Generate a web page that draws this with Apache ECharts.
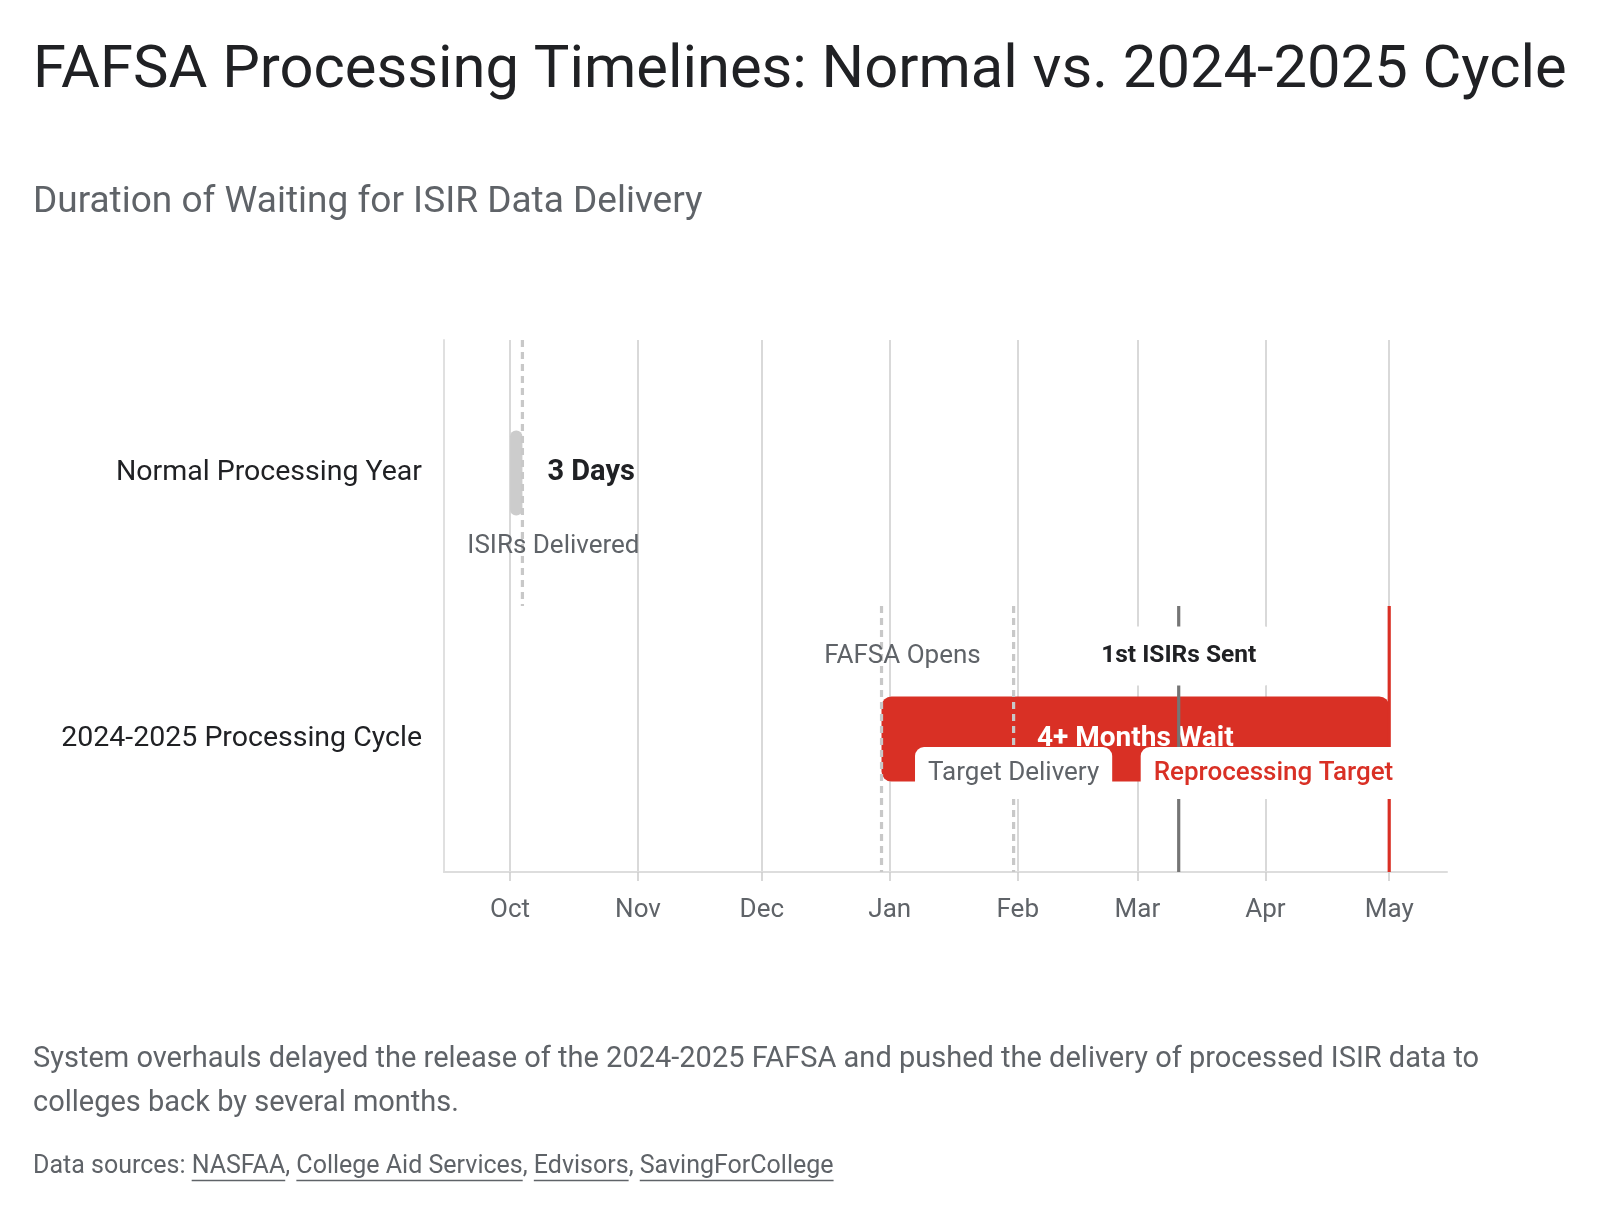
<!DOCTYPE html>
<html>
<head>
<meta charset="utf-8">
<title>FAFSA Processing Timelines</title>
<script src="https://cdn.jsdelivr.net/npm/echarts@6.0.0/dist/echarts.min.js"></script>
<style>
html, body { margin: 0; padding: 0; background: #fff; }
#main { width: 1600px; height: 1214px; }
</style>
</head>
<body>
<div id="main"></div>
<script>
// rows of the chart (top to bottom)
var categories = ['Normal Processing Year', '2024-2025 Processing Cycle'];

// waiting periods per row
var rangeStarts = ['2023-10-01', '2023-12-30'];
var rangeEnds = ['2023-10-04', '2024-05-01'];
var rangeLabels = ['3 Days', '4+ Months Wait'];

// milestones
var eventNames = ['ISIRs Delivered', 'FAFSA Opens', 'Target Delivery', '1st ISIRs Sent', 'Reprocessing Target'];
var eventDates = ['2023-10-04', '2023-12-30', '2024-01-31', '2024-03-11', '2024-05-01'];
var eventRows = [0, 1, 1, 1, 1];

// x axis
var tickDates = ['2023-10-01', '2023-11-01', '2023-12-01', '2024-01-01', '2024-02-01', '2024-03-01', '2024-04-01', '2024-05-01'];
var tickLabels = ['Oct', 'Nov', 'Dec', 'Jan', 'Feb', 'Mar', 'Apr', 'May'];
var axisStart = '2023-09-15';
var axisEnd = '2024-05-15';

var FONT = 'Roboto';
var RED = '#d93025';
var GRAY_TXT = '#5f6368';
var DARK = '#202124';

function toTime(s) {
    var p = s.split('-');
    return new Date(+p[0], +p[1] - 1, +p[2]).getTime();
}
var tickTimes = tickDates.map(toTime);

// styles, by row / by milestone
var rangeStyle = [
    { color: '#cccccc', radius: 6, labelColor: DARK, labelSize: 29, inside: false },
    { color: RED, radius: 10, labelColor: '#ffffff', labelSize: 28, inside: true }
];
var eventStyle = {
    'ISIRs Delivered':     { stroke: '#c8c8c8', dash: [7, 5], txt: GRAY_TXT, size: 26, weight: 'normal', dx: 31, dy: 73, align: 'center', box: false },
    'FAFSA Opens':         { stroke: '#c8c8c8', dash: [7, 5], txt: GRAY_TXT, size: 26, weight: 'normal', dx: 21, dy: -83, align: 'center', box: false },
    'Target Delivery':     { stroke: '#c8c8c8', dash: [7, 5], txt: GRAY_TXT, size: 26, weight: 'normal', dx: 0, dy: 34, align: 'center', box: true, pad: [13, 13] },
    '1st ISIRs Sent':      { stroke: '#757575', dash: null, txt: DARK, size: 24.5, weight: 'bold', dx: 0, dy: -83, align: 'center', box: true, pad: [17, 18] },
    'Reprocessing Target': { stroke: RED, dash: null, txt: RED, size: 26, weight: 500, dx: 17, dy: 34, align: 'right', box: true, pad: [13, 13] }
};

var rangeData = categories.map(function (c, i) {
    return [i, toTime(rangeStarts[i]), toTime(rangeEnds[i])];
});
var eventData = eventNames.map(function (n, i) {
    return [eventRows[i], toTime(eventDates[i])];
});

function renderRange(params, api) {
    var row = api.value(0);
    var p0 = api.coord([api.value(1), row]);
    var p1 = api.coord([api.value(2), row]);
    var bandH = api.size([0, 1])[1];
    var h = bandH * 0.32;
    var st = rangeStyle[row];
    var label = rangeLabels[params.dataIndex];
    return {
        type: 'group',
        children: [{
            type: 'rect',
            shape: { x: p0[0], y: p0[1] - h / 2, width: Math.max(p1[0] - p0[0], 2), height: h, r: st.radius },
            style: { fill: st.color }
        }, {
            type: 'text',
            x: st.inside ? (p0[0] + p1[0]) / 2 : p1[0] + 25,
            y: p0[1],
            style: {
                text: label,
                fill: st.labelColor,
                fontFamily: FONT,
                fontSize: st.labelSize,
                fontWeight: 'bold',
                align: st.inside ? 'center' : 'left',
                verticalAlign: 'middle'
            }
        }]
    };
}

function renderEventLine(params, api) {
    var row = api.value(0);
    var p = api.coord([api.value(1), row]);
    var bandH = api.size([0, 1])[1];
    var st = eventStyle[eventNames[params.dataIndex]];
    return {
        type: 'line',
        shape: { x1: p[0], y1: p[1] - bandH / 2, x2: p[0], y2: p[1] + bandH / 2 },
        style: { stroke: st.stroke, lineWidth: 3.2, lineDash: st.dash || null }
    };
}

function renderEventLabel(params, api) {
    var row = api.value(0);
    var p = api.coord([api.value(1), row]);
    var name = eventNames[params.dataIndex];
    var st = eventStyle[name];
    var style = {
        text: name,
        fill: st.txt,
        fontFamily: FONT,
        fontSize: st.size,
        fontWeight: st.weight,
        align: st.align,
        verticalAlign: 'middle'
    };
    if (st.box) {
        style.backgroundColor = '#ffffff';
        style.padding = st.pad;
        style.borderRadius = 9;
    }
    return { type: 'text', x: p[0] + st.dx, y: p[1] + st.dy, style: style };
}

// footer text pieces (links underlined)
var sourceParts = [
    ['Data sources: ', false], ['NASFAA', true], [', ', false], ['College Aid Services', true],
    [', ', false], ['Edvisors', true], [', ', false], ['SavingForCollege', true]
];

var graphics = [
    { type: 'text', x: 33, y: 72, style: { text: 'FAFSA Processing Timelines: Normal vs. 2024-2025 Cycle', fill: DARK, fontFamily: FONT, fontSize: 59.7, verticalAlign: 'middle' } },
    { type: 'text', x: 33, y: 203, style: { text: 'Duration of Waiting for ISIR Data Delivery', fill: GRAY_TXT, fontFamily: FONT, fontSize: 37, verticalAlign: 'middle' } },
    { type: 'text', x: 33, y: 1060, style: { text: 'System overhauls delayed the release of the 2024-2025 FAFSA and pushed the delivery of processed ISIR data to', fill: GRAY_TXT, fontFamily: FONT, fontSize: 29, verticalAlign: 'middle' } },
    { type: 'text', x: 33, y: 1104, style: { text: 'colleges back by several months.', fill: GRAY_TXT, fontFamily: FONT, fontSize: 29, verticalAlign: 'middle' } }
];

var ctx = document.createElement('canvas').getContext('2d');
ctx.font = '25px ' + FONT;
var sx = 33;
sourceParts.forEach(function (part) {
    var w = ctx.measureText(part[0]).width;
    graphics.push({ type: 'text', x: sx, y: 1167, style: { text: part[0], fill: GRAY_TXT, fontFamily: FONT, fontSize: 25, verticalAlign: 'middle' } });
    if (part[1]) {
        graphics.push({ type: 'line', shape: { x1: sx, y1: 1180.5, x2: sx + w, y2: 1180.5 }, style: { stroke: GRAY_TXT, lineWidth: 1.5 } });
    }
    sx += w;
});

var chart = echarts.init(document.getElementById('main'), null, { renderer: 'canvas' });
chart.setOption({
    backgroundColor: '#ffffff',
    animation: false,
    textStyle: { fontFamily: FONT },
    grid: { left: 444, right: 153, top: 340, bottom: 342 },
    xAxis: {
        type: 'value',
        min: toTime(axisStart),
        max: toTime(axisEnd),
        axisLine: { show: true, lineStyle: { color: '#dddddd', width: 2 } },
        axisTick: { show: true, length: 9, lineStyle: { color: '#cccccc', width: 1.5 }, customValues: tickTimes },
        axisLabel: {
            customValues: tickTimes,
            margin: 25,
            fontSize: 26,
            color: GRAY_TXT,
            formatter: function (v) {
                var i = tickTimes.indexOf(v);
                return i >= 0 ? tickLabels[i] : '';
            }
        },
        splitLine: { show: true, lineStyle: { color: '#cccccc', width: 1.5 } }
    },
    yAxis: {
        type: 'category',
        inverse: true,
        data: categories,
        axisLine: { show: true, lineStyle: { color: '#e0e0e0', width: 2 } },
        axisTick: { show: false },
        axisLabel: { fontSize: 28.5, color: DARK, margin: 22 },
        splitLine: { show: false }
    },
    series: [{
        type: 'custom',
        name: 'ranges',
        z: 2,
        renderItem: renderRange,
        encode: { x: [1, 2], y: 0 },
        data: rangeData
    }, {
        type: 'custom',
        name: 'milestone lines',
        z: 3,
        renderItem: renderEventLine,
        encode: { x: 1, y: 0 },
        data: eventData
    }, {
        type: 'custom',
        name: 'milestone labels',
        z: 4,
        renderItem: renderEventLabel,
        encode: { x: 1, y: 0 },
        data: eventData
    }],
    graphic: graphics
});
</script>
</body>
</html>
